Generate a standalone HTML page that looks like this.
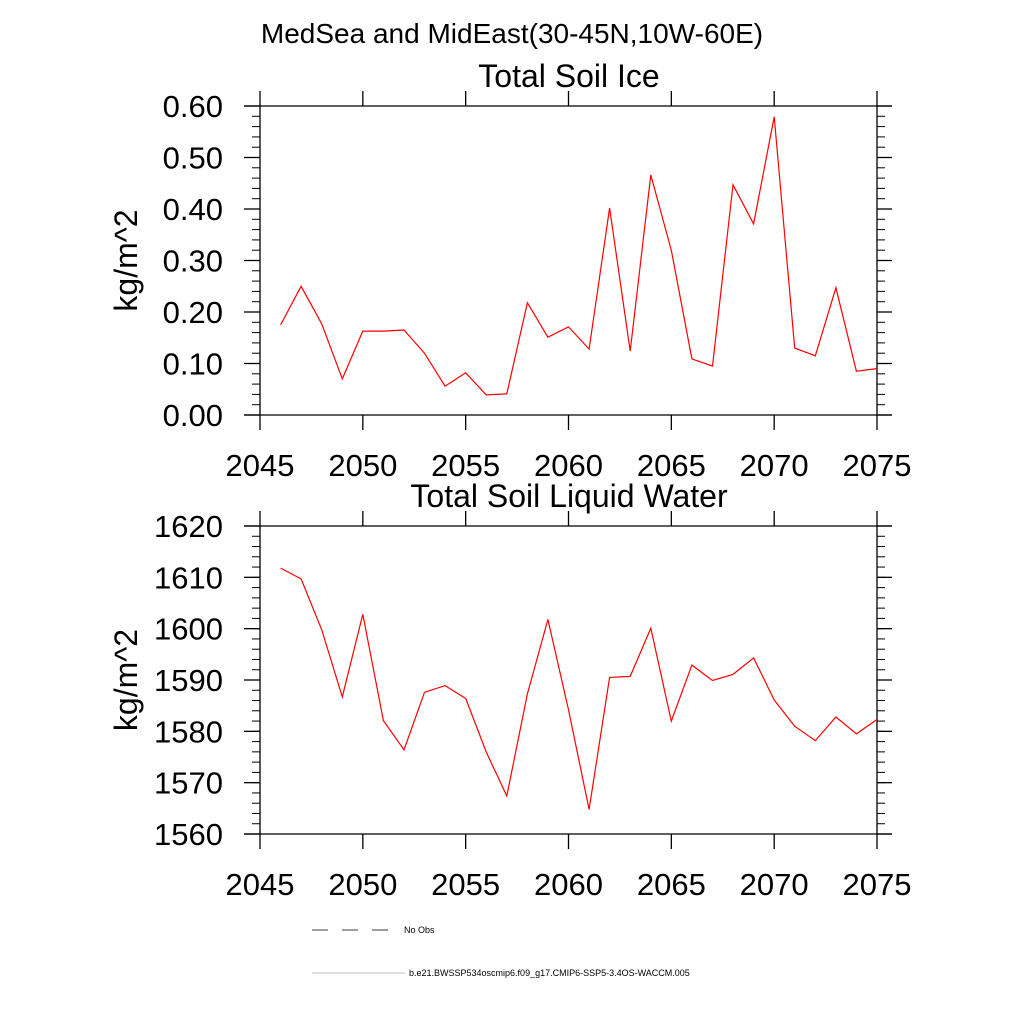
<!DOCTYPE html>
<html><head><meta charset="utf-8"><style>
body{margin:0;background:#fff}
svg{display:block;font-family:"Liberation Sans",Arial,sans-serif}
</style></head><body>
<svg id="c" width="1024" height="1024" viewBox="0 0 1024 1024">
<text x="512" y="43" font-size="28" text-anchor="middle">MedSea and MidEast(30-45N,10W-60E)</text>
<g id="legend">
<line x1="312" y1="930" x2="400" y2="930" stroke="#000" stroke-width="0.8" stroke-dasharray="16,14"/>
<text x="404" y="933" font-size="9">No Obs</text>
<line x1="312" y1="973" x2="405" y2="973" stroke="#aaa" stroke-width="0.8"/>
<text x="409" y="976" font-size="9">b.e21.BWSSP534oscmip6.f09_g17.CMIP6-SSP5-3.4OS-WACCM.005</text>
</g>
</svg>
<script>
const years=[2046,2047,2048,2049,2050,2051,2052,2053,2054,2055,2056,2057,2058,2059,2060,2061,2062,2063,2064,2065,2066,2067,2068,2069,2070,2071,2072,2073,2074,2075];
const iceValues=[0.175,0.25,0.177,0.07,0.163,0.163,0.165,0.12,0.056,0.082,0.039,0.041,0.218,0.151,0.171,0.128,0.402,0.124,0.466,0.32,0.109,0.095,0.447,0.371,0.579,0.13,0.115,0.247,0.085,0.09];
const liqValues=[1611.8,1609.7,1599.8,1586.7,1602.8,1582.1,1576.4,1587.6,1588.9,1586.4,1576,1567.4,1587.3,1601.8,1584.2,1564.8,1590.5,1590.7,1600.1,1582,1592.9,1589.9,1591.1,1594.3,1586.1,1581,1578.2,1582.8,1579.5,1582.3];
const xTicks=[2045,2050,2055,2060,2065,2070,2075];
const iceTicks=[0,0.1,0.2,0.3,0.4,0.5,0.6];
const iceTickLabels=["0.00","0.10","0.20","0.30","0.40","0.50","0.60"];
const liqTicks=[1560,1570,1580,1590,1600,1610,1620];
const liqTickLabels=["1560","1570","1580","1590","1600","1610","1620"];

const svg=document.getElementById('c');
const NS='http://www.w3.org/2000/svg';
function mk(tag,attrs,parent){const e=document.createElementNS(NS,tag);for(const k in attrs)e.setAttribute(k,attrs[k]);(parent||svg).appendChild(e);return e;}
const X0=260,X1=877;
function xs(v){return X0+(v-2045)/(2075-2045)*(X1-X0);}

function panel(key,title,top,bot,ymin,ymax,ticks,labels,minorStep,vals){
  const g=mk('g',{});
  
  
  const ys=v=>bot-(v-ymin)/(ymax-ymin)*(bot-top);
  const f=mk('path',{d:`M244 ${top}H892M244 ${bot}H892M${X0} ${top}V${bot}M${X1} ${top}V${bot}`,stroke:'#000','stroke-width':1.3,fill:'none'},g);
  
  
  for(let v=ymin;v<=ymax+1e-9;v+=minorStep){
    const y=ys(v);
    mk('line',{x1:252,y1:y,x2:X0,y2:y,stroke:'#000','stroke-width':1},g);
    mk('line',{x1:X1,y1:y,x2:885,y2:y,stroke:'#000','stroke-width':1},g);
  }
  ticks.forEach((v,i)=>{
    const y=ys(v);
    mk('line',{x1:244,y1:y,x2:X0,y2:y,stroke:'#000','stroke-width':1.3},g);
    mk('line',{x1:X1,y1:y,x2:892,y2:y,stroke:'#000','stroke-width':1.3},g);
    const t=mk('text',{x:223,y:y+11,'font-size':31,'text-anchor':'end'},g);
    t.textContent=labels[i];
    
    
  });
  xTicks.forEach(v=>{
    const x=xs(v);
    mk('line',{x1:x,y1:top-15,x2:x,y2:top,stroke:'#000','stroke-width':1.3},g);
    mk('line',{x1:x,y1:bot,x2:x,y2:bot+15,stroke:'#000','stroke-width':1.3},g);
    const t=mk('text',{x:x,y:bot+61,'font-size':31,'text-anchor':'middle'},g);
    t.textContent=v;
    
    
  });
  const tt=mk('text',{x:569,y:top-19,'font-size':32,'text-anchor':'middle'},g);
  tt.textContent=title;
  
  
  const yl=mk('text',{x:0,y:0,'font-size':32,'text-anchor':'middle',transform:`translate(137 ${(top+bot)/2}) rotate(-90)`},g);
  yl.textContent='kg/m^2';
  
  
  const pts=vals.map((v,i)=>xs(years[i]).toFixed(1)+','+ys(v).toFixed(1)).join(' ');
  const pl=mk('polyline',{points:pts,fill:'none',stroke:'#f00','stroke-width':1.2},g);
  
  
}
panel('ice','Total Soil Ice',106,415,0,0.6,iceTicks,iceTickLabels,0.02,iceValues);
panel('liquid','Total Soil Liquid Water',526,834,1560,1620,liqTicks,liqTickLabels,2,liqValues);
</script>
</body></html>
